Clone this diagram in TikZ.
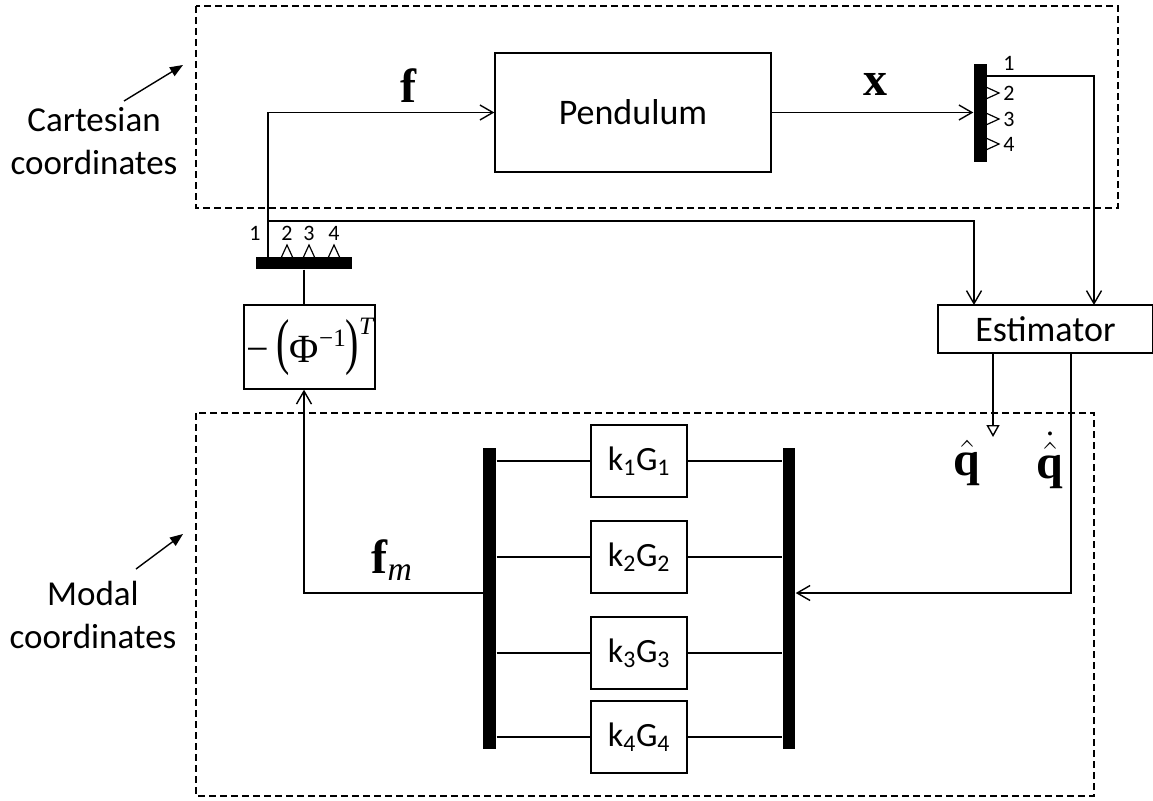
\documentclass[tikz,border=0pt]{standalone}
\usepackage{fix-cm}
\usepackage{amsmath}
\usepackage{graphicx}
\usepackage[no-math]{fontspec}
\setmainfont{Carlito}
\newfontfamily\tnr{Liberation Serif}
\usetikzlibrary{arrows.meta}
\begin{document}
\begin{tikzpicture}[x=1pt,y=-1pt,
  line width=1.4pt,
  blk/.style={draw, line width=1.4pt, fill=white, inner sep=0pt, font=\fontsize{36}{36}\selectfont},
  kblk/.style={blk, minimum width=96pt, minimum height=72pt, font=\fontsize{34}{34}\selectfont},
  bar/.style={fill=black, draw=none, inner sep=0pt},
  arr/.style={-{Straight Barb[length=13pt,width=15pt]}},
  tri/.style={-{Triangle[open,length=12pt,width=13pt,fill=white]}},
  region/.style={dash pattern=on 7pt off 4pt, line width=1.3pt},
  lbl/.style={font=\fontsize{35}{43}\selectfont, align=center, inner sep=0pt},
  num/.style={font=\fontsize{22}{22}\selectfont, inner sep=0pt},
  mlbl/.style={font=\fontsize{48}{48}\selectfont, inner sep=0pt},
  ptr/.style={-{Triangle[length=13pt,width=10pt]}, line width=1.4pt},
  tick/.style={line width=1.2pt, line join=miter}
]
\useasboundingbox (0,0) rectangle (1153,800);

% regions
\draw[region] (196,6) rectangle (1118,208);
\draw[region] (196,413) rectangle (1094,796);

% side labels
\node[lbl] (cart) at (94,141) {Cartesian\\coordinates};
\coordinate (cartTail) at (124,101);
\coordinate (cartTip) at (183,65);
\draw[ptr] (cartTail) -- (cartTip);
\node[lbl] (modal) at (93,615) {Modal\\coordinates};
\coordinate (modTail) at (136,569);
\coordinate (modTip) at (183,534);
\draw[ptr] (modTail) -- (modTip);

% blocks
\node[blk, minimum width=276pt, minimum height=119pt] (pend) at (633,112.5) {Pendulum};
\node[bar, minimum width=13pt, minimum height=98pt] (dmx) at (980.5,113) {};
\node[blk, minimum width=215pt, minimum height=48pt] (est) at (1045.5,329) {Estimator};
\node[blk, minimum width=131pt, minimum height=84pt] (phi) at (309.5,347)
  {\raisebox{-9pt}{\tnr\fontsize{40}{40}\selectfont −\hspace{8pt}\scalebox{1}[1.55]{(}Φ\raisebox{0.42em}{\fontsize{25}{25}\selectfont −1}\scalebox{1}[1.55]{)}\raisebox{0.72em}{\fontsize{25}{25}\selectfont\itshape T}}};
\node[bar, minimum width=96pt, minimum height=12pt] (mux) at (304,263) {};
\node[bar, minimum width=13pt, minimum height=301pt] (lbar) at (489.5,598.5) {};
\node[bar, minimum width=12pt, minimum height=301pt] (rbar) at (789,598.5) {};
\node[kblk] (k1) at (639,461) {k\textsubscript{1}G\textsubscript{1}};
\node[kblk] (k2) at (639,557) {k\textsubscript{2}G\textsubscript{2}};
\node[kblk] (k3) at (639,653) {k\textsubscript{3}G\textsubscript{3}};
\node[kblk] (k4) at (639,737) {k\textsubscript{4}G\textsubscript{4}};

% math labels
\node[mlbl] (flbl) at (408,86) {\tnr\bfseries f};
\node[mlbl] (xlbl) at (875,84) {\tnr\bfseries x};
\node[mlbl] (qh) at (967,463) {$\hat{\textbf{\tnr q}}$};
\node[mlbl] (qdh) at (1050,460) {$\dot{\hat{\textbf{\tnr q}}}$};
\node[mlbl] (fm) at (392,560) {$\textbf{\tnr f}_{\textit{\tnr m}}$};

% coordinates
\coordinate (d1) at (987,76);
\coordinate (e1in) at (974,305);
\coordinate (e2in) at (1094,305);
\coordinate (m1) at (268,257);
\coordinate (br) at (268,221);
\coordinate (fmL) at (483,593);
\coordinate (qx) at (993,437);
\coordinate (qdx) at (1071,593);

% connectors
\draw[arr] (pend.east) -- (pend.east -| dmx.west);
\draw[arr] (d1) -| (e2in);
\draw[arr] (m1) |- (pend.west);
\draw[arr] (br) -| (e1in);
\draw (mux.south) -- (phi.north -| mux.south);
\draw[arr] (fmL) -| (phi.south -| mux.south);
\draw[tri] (qx |- est.south) -- (qx);
\draw[arr] (qdx |- est.south) |- (rbar.east |- qdx);
\foreach \i in {1,2,3,4}{
  \draw (lbar.east |- k\i) -- (k\i.west);
  \draw (k\i.east) -- (rbar.west |- k\i);
}

% demux ports
\node[num] (dn1) at (1009,63) {1};
\foreach \y/\n in {93/2,119/3,144/4}{
  \draw[tick] (987,\y-5.5) -- (999,\y) -- (987,\y+5.5);
  \node[num] (dn\n) at (1009,\y) {\n};
}
% mux ports
\node[num] (mn1) at (255,233) {1};
\foreach \x/\n in {287/2,309/3,334/4}{
  \draw[tick] (\x-5.5,257) -- (\x,245) -- (\x+5.5,257);
  \node[num] (mn\n) at (\x,233) {\n};
}
\end{tikzpicture}
\end{document}
